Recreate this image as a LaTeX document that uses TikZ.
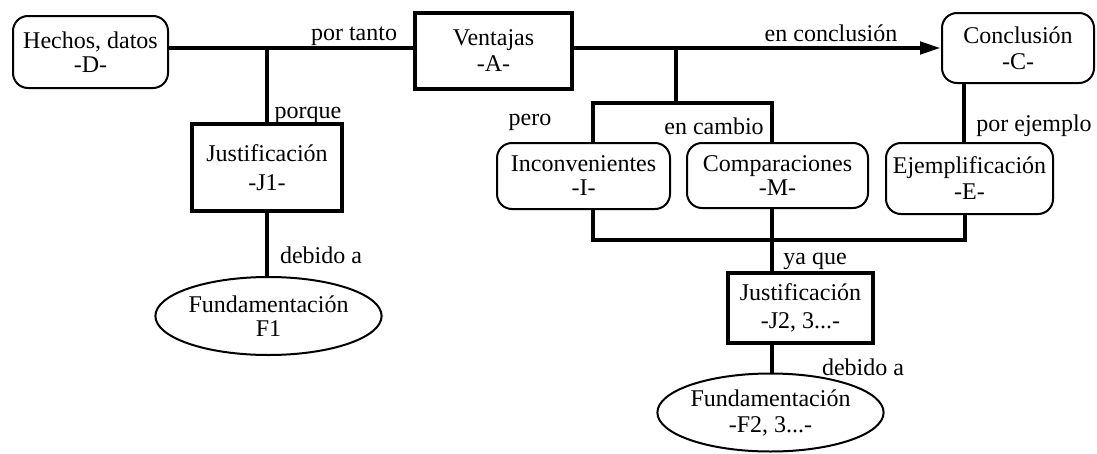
\documentclass[tikz,border=0pt]{standalone}
\usepackage{fontspec}
\setmainfont{Liberation Serif}
\newfontfamily\tnr{Liberation Serif}
\usetikzlibrary{arrows.meta,shapes.geometric}
\begin{document}
\begin{tikzpicture}[x=1pt,y=-1pt,
  every node/.style={font=\tnr\fontsize{24}{24}\selectfont, inner sep=0pt, align=center},
  rbox/.style={draw, line width=2pt, rounded corners=15pt},
  tbox/.style={draw, line width=4.5pt},
  ell/.style={draw, ellipse, line width=2pt},
  conn/.style={line width=4.5pt},
  lab/.style={anchor=base}
]
\useasboundingbox (0,0) rectangle (1097,453);
% nodes
\node[rbox, minimum width=155pt, minimum height=72pt] (D) at (90.5,52) {Hechos, datos\\-D-};
\node[tbox, minimum width=157pt, minimum height=76pt] (A) at (493.5,51) {Ventajas\\[2pt]-A-};
\node[rbox, minimum width=152pt, minimum height=70pt] (C) at (1018,48) {Conclusión\\[2pt]-C-};
\node[tbox, minimum width=150pt, minimum height=87pt] (J1) at (267,167.5) {Justificación\\[5pt]-J1-};
\node[rbox, minimum width=173pt, minimum height=66pt] (I) at (583.5,176) {Inconvenientes\\-I-};
\node[rbox, minimum width=181pt, minimum height=65pt] (M) at (777.5,175.5) {Comparaciones\\-M-};
\node[rbox, minimum width=167pt, minimum height=71pt] (E) at (969.5,178.5) {Ejemplificación\\[2pt]-E-};
\node[tbox, minimum width=145pt, minimum height=70pt] (J2) at (800.5,308) {Justificación\\[4pt]-J2, 3...-};
\node[ell, minimum width=191pt, minimum height=78pt] (F1) at (268.5,316) {Fundamentación\\F1};
\node[ell, minimum width=185pt, minimum height=78pt] (F2) at (770.5,412.5) {Fundamentación\\[2pt]-F2, 3...-};
% junction coordinates
\coordinate (j1) at (267,48);
\coordinate (c1) at (676,48);
\coordinate (bi) at (593,103);
\coordinate (bm) at (772,103);
\coordinate (ce) at (964,100);
\coordinate (li) at (593,240);
\coordinate (lm) at (772,240);
\coordinate (le) at (965,240);
% connectors
\draw[conn] (D.east |- j1) -- (A.west |- j1);
\draw[conn] (j1) -- (J1.north);
\draw[conn, -{Triangle[length=21pt,width=12pt]}] (A.east |- c1) -- (C.west |- c1);
\draw[conn] (c1) -- (c1 |- bi);
\draw[conn] (bi |- I.north) -- (bi) -- (bm) -- (bm |- M.north);
\draw[conn] (ce |- C.south) -- (ce |- E.north);
\draw[conn] (li |- I.south) -- (li) -- (le) -- (le |- E.south);
\draw[conn] (lm |- M.south) -- (lm |- J2.north);
\draw[conn] (lm |- J2.south) -- (lm |- F2.north);
\draw[conn] (J1.south) -- (J1.south |- F1.north);
% labels
\node[lab] (l1) at (354,40) {por tanto};
\node[lab] (l2) at (308,118) {porque};
\node[lab] (l3) at (831,41) {en conclusión};
\node[lab] (l4) at (530,125) {pero};
\node[lab] (l5) at (714,134) {en cambio};
\node[lab] (l6) at (1034,131) {por ejemplo};
\node[lab] (l7) at (815,264) {ya que};
\node[lab] (l8) at (321,263) {debido a};
\node[lab] (l9) at (863,375) {debido a};
\end{tikzpicture}
\end{document}
